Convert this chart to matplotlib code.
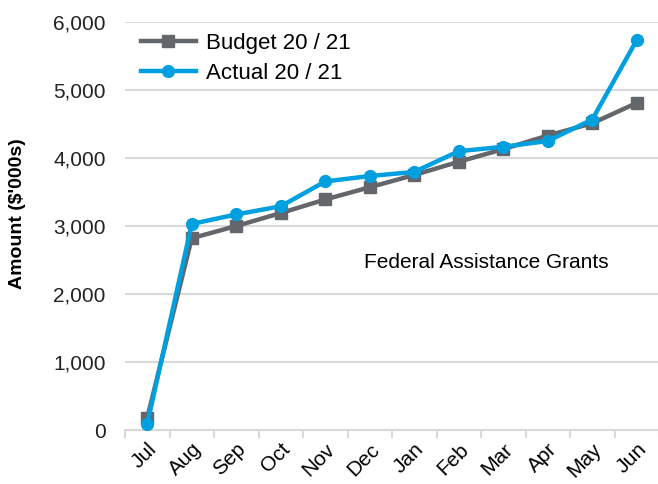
import matplotlib.pyplot as plt
from matplotlib.ticker import FuncFormatter

plt.rcParams['font.family'] = ['Liberation Sans', 'DejaVu Sans']

months = ['Jul', 'Aug', 'Sep', 'Oct', 'Nov', 'Dec', 'Jan', 'Feb', 'Mar', 'Apr', 'May', 'Jun']
budget = [180, 2820, 3000, 3190, 3390, 3570, 3750, 3945, 4130, 4330, 4510, 4810]
actual = [90, 3030, 3170, 3290, 3655, 3735, 3795, 4100, 4165, 4250, 4565, 5735]

grey = '#63666a'
blue = '#009fdf'
gridc = '#d9d9d9'

fig = plt.figure(figsize=(6.58, 4.84), dpi=100)
ax = fig.add_axes([125 / 658, 1 - 430 / 484, 534 / 658, 408 / 484])

x = range(len(months))
ax.plot(x, budget, color=grey, lw=3.2, marker='s', ms=8.5, label='Budget 20 / 21', zorder=3)
ax.plot(x, actual, color=blue, lw=3.2, marker='o', ms=8.5, label='Actual 20 / 21', zorder=4)

ax.set_xlim(-0.5, 11.5)
ax.set_ylim(0, 6000)
ax.set_yticks(range(0, 6001, 1000))
ax.yaxis.set_major_formatter(FuncFormatter(lambda v, p: f'{int(v):,}'))
ax.grid(axis='y', color=gridc, lw=1.5)
ax.set_axisbelow(True)
for s in ['top', 'right', 'left']:
    ax.spines[s].set_visible(False)
ax.spines['bottom'].set_color(gridc)
ax.spines['bottom'].set_linewidth(1.5)
ax.tick_params(axis='y', length=0, pad=14, labelsize=15, colors='#222222')

ax.set_xticks([i - 0.5 for i in range(len(months) + 1)], minor=True)
ax.set_xticks(list(x))
ax.set_xticklabels(months, rotation=45, ha='right', va='top', rotation_mode='anchor', fontsize=15)
ax.tick_params(axis='x', which='major', length=0, pad=7)
ax.tick_params(axis='x', which='minor', length=6, width=1.5, color=gridc)

ax.text(4.87, 2470, 'Federal Assistance Grants', fontsize=15, ha='left', va='center')

fig.text(18 / 658, 1 - 214 / 484, "Amount ($'000s)", rotation=90, ha='center', va='center',
         fontsize=14, fontweight='bold')

ax.legend(loc='upper left', bbox_to_anchor=(0.0, 1.012), frameon=False, fontsize=16,
          handlelength=2.5, handletextpad=0.45, labelspacing=0.4, borderaxespad=0.3)

plt.savefig('out.png', dpi=100)
